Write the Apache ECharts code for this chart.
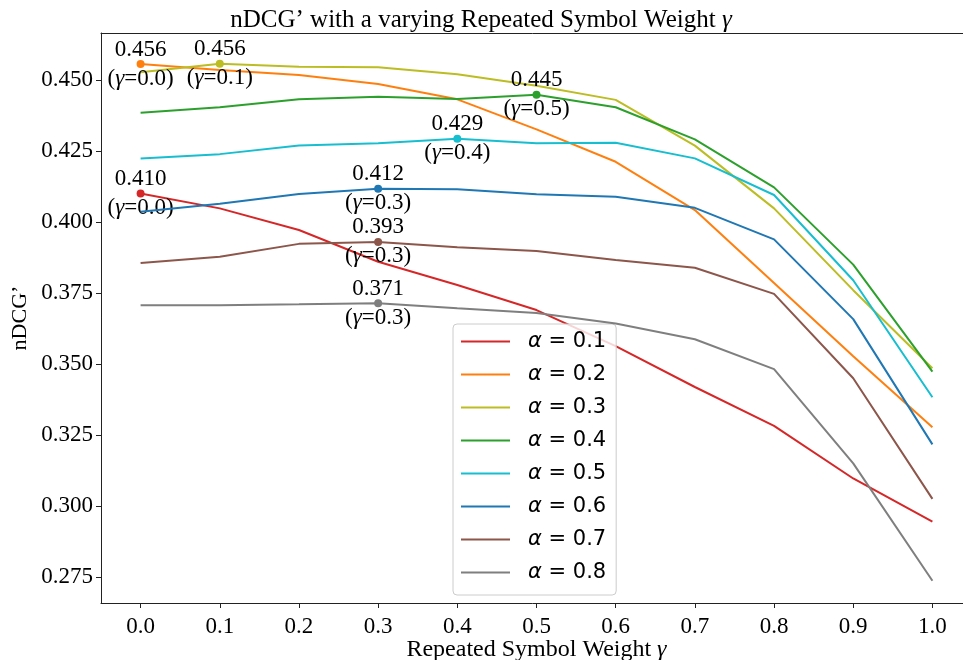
<!DOCTYPE html>
<html>
<head>
<meta charset="utf-8">
<script src="https://cdn.jsdelivr.net/npm/echarts@6.0.0/dist/echarts.min.js"></script>
<style>
html,body{margin:0;padding:0;background:#fff;overflow:hidden;}
#chart{width:963px;height:660px;}
</style>
</head>
<body>
<div id="chart"></div>
<script>
// ---- data ----
const gammaLabels = ['0.0','0.1','0.2','0.3','0.4','0.5','0.6','0.7','0.8','0.9','1.0'];
const seriesNames = ['α = 0.1','α = 0.2','α = 0.3','α = 0.4','α = 0.5','α = 0.6','α = 0.7','α = 0.8'];
const alpha01 = [0.4100, 0.4048, 0.3972, 0.3860, 0.3778, 0.3690, 0.3563, 0.3419, 0.3282, 0.3097, 0.2945];
const alpha02 = [0.4556, 0.4535, 0.4518, 0.4486, 0.4432, 0.4326, 0.4212, 0.4042, 0.3785, 0.3527, 0.3277];
const alpha03 = [0.4527, 0.4557, 0.4547, 0.4545, 0.4520, 0.4480, 0.4430, 0.4269, 0.4048, 0.3760, 0.3485];
const alpha04 = [0.4385, 0.4404, 0.4432, 0.4441, 0.4433, 0.4448, 0.4404, 0.4291, 0.4122, 0.3850, 0.3473];
const alpha05 = [0.4224, 0.4239, 0.4269, 0.4277, 0.4293, 0.4277, 0.4279, 0.4224, 0.4095, 0.3795, 0.3383];
const alpha06 = [0.4036, 0.4064, 0.4099, 0.4117, 0.4115, 0.4098, 0.4089, 0.4050, 0.3939, 0.3658, 0.3217];
const alpha07 = [0.3856, 0.3878, 0.3923, 0.3930, 0.3911, 0.3898, 0.3866, 0.3839, 0.3747, 0.3450, 0.3025];
const alpha08 = [0.3707, 0.3707, 0.3710, 0.3714, 0.3696, 0.3680, 0.3643, 0.3587, 0.3482, 0.3150, 0.2737];
const yTicks = [0.275, 0.300, 0.325, 0.350, 0.375, 0.400, 0.425, 0.450];

const allSeries = [alpha01, alpha02, alpha03, alpha04, alpha05, alpha06, alpha07, alpha08];
const palette = ['#d62728','#ff7f0e','#bcbd22','#2ca02c','#17becf','#1f77b4','#8c564b','#7f7f7f'];

const SERIF = '"Liberation Serif", "DejaVu Serif", serif';
const SANS = '"DejaVu Sans", sans-serif';

function argMax(arr){ let k=0; for(let i=1;i<arr.length;i++){ if(arr[i]>arr[k]) k=i; } return k; }

const series = allSeries.map((vals, si) => {
  const k = argMax(vals);
  return {
    name: seriesNames[si],
    type: 'line',
    data: vals,
    symbol: 'none',
    color: palette[si],
    lineStyle: { width: 2, color: palette[si] },
    z: 2 + si,
    markPoint: {
      symbol: 'circle',
      symbolSize: 8,
      itemStyle: { color: palette[si] },
      data: [{ coord: [gammaLabels[k], vals[k]], value: vals[k], name: gammaLabels[k] }],
      label: {
        show: true,
        position: 'inside',
        formatter: p => '{v|' + Number(p.value).toFixed(3) + '}\n{p|(}{g|γ}{p|=' + p.name + ')}',
        rich: {
          v: { fontFamily: SERIF, fontSize: 23, color: '#000', lineHeight: 29 },
          p: { fontFamily: SERIF, fontSize: 23, color: '#000', lineHeight: 29 },
          g: { fontFamily: SERIF, fontSize: 23, fontStyle: 'italic', color: '#000', lineHeight: 29 }
        }
      }
    }
  };
});

const chart = echarts.init(document.getElementById('chart'), null, { renderer: 'canvas' });
chart.setOption({
  animation: false,
  backgroundColor: '#fff',
  title: {
    text: '{t|nDCG’ with a varying Repeated Symbol Weight }{g|γ}',
    left: 476,
    top: 3,
    textAlign: 'center',
    textStyle: {
      fontWeight: 'normal',
      rich: {
        t: { fontFamily: SERIF, fontSize: 25, fontWeight: 'normal', color: '#000' },
        g: { fontFamily: SERIF, fontSize: 25, fontWeight: 'normal', fontStyle: 'italic', color: '#000' }
      }
    }
  },
  grid: {
    left: 101, top: 33, width: 871, height: 570,
    outerBoundsMode: 'none',
    containLabel: false,
    show: false
  },
  legend: {
    orient: 'vertical',
    left: 453, top: 324,
    data: seriesNames,
    itemWidth: 49, itemHeight: 14, itemGap: 12,
    padding: [7, 10, 12, 8],
    backgroundColor: 'rgba(255,255,255,0.8)',
    borderColor: '#cccccc', borderWidth: 1, borderRadius: 4,
    icon: 'path://M0,6 L49,6 L49,8 L0,8 Z',
    formatter: name => '{g|α}' + name.slice(1),
    textStyle: {
      fontFamily: SANS, fontSize: 21, color: '#000', padding: [0, 0, 0, 13],
      rich: { g: { fontFamily: SANS, fontSize: 21, fontStyle: 'italic', color: '#000' } }
    }
  },
  xAxis: [{
    type: 'category',
    data: gammaLabels,
    boundaryGap: true,
    name: 'Repeated Symbol Weight {g|γ}',
    nameLocation: 'middle',
    nameGap: 35,
    nameMoveOverlap: false,
    nameTextStyle: {
      fontFamily: SERIF, fontSize: 24, color: '#000',
      rich: { g: { fontFamily: SERIF, fontSize: 24, fontStyle: 'italic', color: '#000' } }
    },
    axisLine: { show: true, lineStyle: { color: '#222', width: 1 } },
    axisTick: { show: true, alignWithLabel: true, length: 5, lineStyle: { color: '#222' } },
    axisLabel: { fontFamily: SERIF, fontSize: 23, color: '#000', margin: 12 },
    splitLine: { show: false }
  }, {
    type: 'category',
    data: gammaLabels,
    position: 'top',
    boundaryGap: true,
    axisLine: { show: true, lineStyle: { color: '#222', width: 1 } },
    axisTick: { show: false },
    axisLabel: { show: false },
    splitLine: { show: false }
  }],
  yAxis: {
    type: 'value',
    min: 0.26585, max: 0.46655,
    name: 'nDCG’',
    nameLocation: 'middle',
    nameGap: 70,
    nameMoveOverlap: false,
    nameRotate: 90,
    nameTextStyle: { fontFamily: SERIF, fontSize: 22, color: '#000' },
    axisLine: { show: true, lineStyle: { color: '#222', width: 1 } },
    axisTick: { show: true, length: 5, lineStyle: { color: '#222' }, customValues: yTicks },
    axisLabel: {
      fontFamily: SERIF, fontSize: 23, color: '#000', margin: 8,
      customValues: yTicks,
      formatter: v => Number(v).toFixed(3)
    },
    splitLine: { show: false }
  },
  series: series
});
</script>
</body>
</html>
